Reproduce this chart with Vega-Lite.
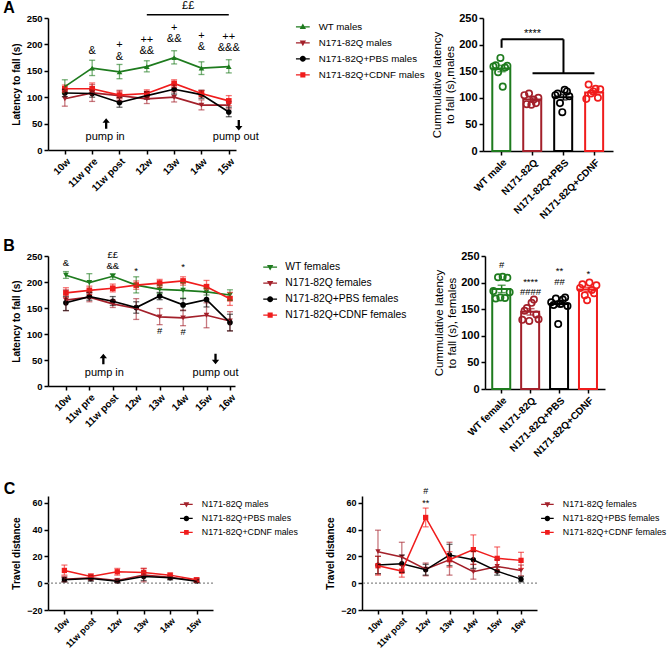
{
"$schema":"https://vega.github.io/schema/vega-lite/v6.json",
"padding":{"left":3,"top":0,"right":0,"bottom":0},
"config":{
 "font":"Liberation Sans",
 "view":{"stroke":null},
 "axis":{"grid":false,"domainColor":"#000","domainWidth":1.5,"tickColor":"#000","tickWidth":1.5,"tickSize":4,"labelColor":"#000","labelFontWeight":"bold","labelFontSize":9.5,"labelPadding":2,"titleColor":"#000","titleFontWeight":"bold","titleFontSize":10,"titlePadding":5},
 "axisX":{"labelAngle":-45,"labelFontSize":10},
 "legend":{"labelColor":"#000"},
 "title":{"anchor":"start","fontSize":16,"fontWeight":"bold","color":"#000"},
 "text":{"color":"#000"}
},
"datasets":{
 "lineA":[
  {"series":"WT males","week":"10w","mean":120,"lo":108,"hi":133},
  {"series":"WT males","week":"11w pre","mean":155,"lo":141,"hi":170},
  {"series":"WT males","week":"11w post","mean":148,"lo":135,"hi":162},
  {"series":"WT males","week":"12w","mean":158,"lo":148,"hi":169},
  {"series":"WT males","week":"13w","mean":175,"lo":163,"hi":188},
  {"series":"WT males","week":"14w","mean":155,"lo":143,"hi":167},
  {"series":"WT males","week":"15w","mean":158,"lo":146,"hi":171},
  {"series":"N171-82Q males","week":"10w","mean":97,"lo":83,"hi":112},
  {"series":"N171-82Q males","week":"11w pre","mean":108,"lo":92,"hi":124},
  {"series":"N171-82Q males","week":"11w post","mean":103,"lo":93,"hi":113},
  {"series":"N171-82Q males","week":"12w","mean":97,"lo":88,"hi":107},
  {"series":"N171-82Q males","week":"13w","mean":100,"lo":91,"hi":110},
  {"series":"N171-82Q males","week":"14w","mean":85,"lo":76,"hi":95},
  {"series":"N171-82Q males","week":"15w","mean":85,"lo":78,"hi":92},
  {"series":"N171-82Q+PBS males","week":"10w","mean":108,"lo":101,"hi":115},
  {"series":"N171-82Q+PBS males","week":"11w pre","mean":107,"lo":100,"hi":114},
  {"series":"N171-82Q+PBS males","week":"11w post","mean":90,"lo":81,"hi":99},
  {"series":"N171-82Q+PBS males","week":"12w","mean":103,"lo":96,"hi":110},
  {"series":"N171-82Q+PBS males","week":"13w","mean":115,"lo":106,"hi":124},
  {"series":"N171-82Q+PBS males","week":"14w","mean":105,"lo":98,"hi":113},
  {"series":"N171-82Q+PBS males","week":"15w","mean":72,"lo":63,"hi":81},
  {"series":"N171-82Q+CDNF males","week":"10w","mean":116,"lo":109,"hi":123},
  {"series":"N171-82Q+CDNF males","week":"11w pre","mean":116,"lo":106,"hi":127},
  {"series":"N171-82Q+CDNF males","week":"11w post","mean":104,"lo":97,"hi":111},
  {"series":"N171-82Q+CDNF males","week":"12w","mean":107,"lo":100,"hi":114},
  {"series":"N171-82Q+CDNF males","week":"13w","mean":126,"lo":119,"hi":133},
  {"series":"N171-82Q+CDNF males","week":"14w","mean":107,"lo":101,"hi":113},
  {"series":"N171-82Q+CDNF males","week":"15w","mean":93,"lo":84,"hi":103}
 ],
 "annA":[
  {"week":"11w pre","y":187,"label":"&"},
  {"week":"11w post","y":198,"label":"+"},
  {"week":"11w post","y":177,"label":"&"},
  {"week":"12w","y":209,"label":"++"},
  {"week":"12w","y":188,"label":"&&"},
  {"week":"13w","y":231,"label":"+"},
  {"week":"13w","y":210,"label":"&&"},
  {"week":"14w","y":216,"label":"+"},
  {"week":"14w","y":196,"label":"&"},
  {"week":"15w","y":214,"label":"++"},
  {"week":"15w","y":194,"label":"&&&"}
 ],
 "lineB":[
  {"series":"WT females","week":"10w","mean":213,"lo":207,"hi":220},
  {"series":"WT females","week":"11w pre","mean":199,"lo":183,"hi":216},
  {"series":"WT females","week":"11w post","mean":211,"lo":205,"hi":216},
  {"series":"WT females","week":"12w","mean":194,"lo":179,"hi":210},
  {"series":"WT females","week":"13w","mean":186,"lo":178,"hi":194},
  {"series":"WT females","week":"14w","mean":184,"lo":169,"hi":199},
  {"series":"WT females","week":"15w","mean":181,"lo":175,"hi":188},
  {"series":"WT females","week":"16w","mean":175,"lo":165,"hi":185},
  {"series":"N171-82Q females","week":"10w","mean":165,"lo":145,"hi":185},
  {"series":"N171-82Q females","week":"11w pre","mean":171,"lo":162,"hi":180},
  {"series":"N171-82Q females","week":"11w post","mean":158,"lo":151,"hi":165},
  {"series":"N171-82Q females","week":"12w","mean":149,"lo":128,"hi":168},
  {"series":"N171-82Q females","week":"13w","mean":133,"lo":118,"hi":149},
  {"series":"N171-82Q females","week":"14w","mean":131,"lo":116,"hi":146},
  {"series":"N171-82Q females","week":"15w","mean":136,"lo":112,"hi":160},
  {"series":"N171-82Q females","week":"16w","mean":125,"lo":106,"hi":143},
  {"series":"N171-82Q+PBS females","week":"10w","mean":160,"lo":145,"hi":172},
  {"series":"N171-82Q+PBS females","week":"11w pre","mean":172,"lo":165,"hi":179},
  {"series":"N171-82Q+PBS females","week":"11w post","mean":163,"lo":155,"hi":172},
  {"series":"N171-82Q+PBS females","week":"12w","mean":151,"lo":140,"hi":162},
  {"series":"N171-82Q+PBS females","week":"13w","mean":173,"lo":166,"hi":180},
  {"series":"N171-82Q+PBS females","week":"14w","mean":156,"lo":145,"hi":168},
  {"series":"N171-82Q+PBS females","week":"15w","mean":166,"lo":152,"hi":180},
  {"series":"N171-82Q+PBS females","week":"16w","mean":122,"lo":106,"hi":138},
  {"series":"N171-82Q+CDNF females","week":"10w","mean":179,"lo":170,"hi":189},
  {"series":"N171-82Q+CDNF females","week":"11w pre","mean":184,"lo":176,"hi":192},
  {"series":"N171-82Q+CDNF females","week":"11w post","mean":188,"lo":181,"hi":196},
  {"series":"N171-82Q+CDNF females","week":"12w","mean":194,"lo":186,"hi":202},
  {"series":"N171-82Q+CDNF females","week":"13w","mean":198,"lo":190,"hi":205},
  {"series":"N171-82Q+CDNF females","week":"14w","mean":202,"lo":194,"hi":210},
  {"series":"N171-82Q+CDNF females","week":"15w","mean":191,"lo":180,"hi":203},
  {"series":"N171-82Q+CDNF females","week":"16w","mean":168,"lo":155,"hi":180}
 ],
 "annB":[
  {"week":"10w","y":236,"label":"&"},
  {"week":"11w post","y":251,"label":"££"},
  {"week":"11w post","y":231,"label":"&&"},
  {"week":"12w","y":221,"label":"*"},
  {"week":"14w","y":228,"label":"*"},
  {"week":"13w","y":106,"label":"#"},
  {"week":"14w","y":104,"label":"#"}
 ],
 "barA":[
  {"group":"WT male","mean":155,"lo":149,"hi":161},
  {"group":"N171-82Q","mean":97,"lo":94,"hi":100},
  {"group":"N171-82Q+PBS","mean":101,"lo":96,"hi":106},
  {"group":"N171-82Q+CDNF","mean":110,"lo":106.5,"hi":113.5}
 ],
 "ptsA":[
  {"group":"WT male","animal":1,"v":159},{"group":"WT male","animal":2,"v":161},{"group":"WT male","animal":3,"v":148},{"group":"WT male","animal":4,"v":175},{"group":"WT male","animal":5,"v":121},{"group":"WT male","animal":6,"v":157},{"group":"WT male","animal":7,"v":160},
  {"group":"N171-82Q","animal":1,"v":105},{"group":"N171-82Q","animal":2,"v":88},{"group":"N171-82Q","animal":3,"v":108},{"group":"N171-82Q","animal":4,"v":87},{"group":"N171-82Q","animal":5,"v":97},{"group":"N171-82Q","animal":6,"v":90},{"group":"N171-82Q","animal":7,"v":100},
  {"group":"N171-82Q+PBS","animal":1,"v":105},{"group":"N171-82Q+PBS","animal":2,"v":108},{"group":"N171-82Q+PBS","animal":3,"v":90},{"group":"N171-82Q+PBS","animal":4,"v":73},{"group":"N171-82Q+PBS","animal":5,"v":115},{"group":"N171-82Q+PBS","animal":6,"v":112},{"group":"N171-82Q+PBS","animal":7,"v":103},
  {"group":"N171-82Q+CDNF","animal":1,"v":98},{"group":"N171-82Q+CDNF","animal":2,"v":125},{"group":"N171-82Q+CDNF","animal":3,"v":108},{"group":"N171-82Q+CDNF","animal":4,"v":112},{"group":"N171-82Q+CDNF","animal":5,"v":117},{"group":"N171-82Q+CDNF","animal":6,"v":100},{"group":"N171-82Q+CDNF","animal":7,"v":116}
 ],
 "bracketA":[
  {"x":"WT male","x2":"N171-82Q+PBS","y":210,"y2":210},
  {"x":"WT male","x2":"WT male","y":194,"y2":210},
  {"x":"N171-82Q+PBS","x2":"N171-82Q+PBS","y":146,"y2":210},
  {"x":"N171-82Q","x2":"N171-82Q+CDNF","y":146,"y2":146}
 ],
 "barB":[
  {"group":"WT female","mean":188,"lo":181,"hi":195},
  {"group":"N171-82Q","mean":145,"lo":139,"hi":151},
  {"group":"N171-82Q+PBS","mean":160,"lo":155,"hi":165},
  {"group":"N171-82Q+CDNF","mean":187,"lo":183,"hi":191}
 ],
 "ptsB":[
  {"group":"WT female","animal":1,"v":184},{"group":"WT female","animal":2,"v":170},{"group":"WT female","animal":3,"v":210},{"group":"WT female","animal":4,"v":172},{"group":"WT female","animal":5,"v":211},{"group":"WT female","animal":6,"v":171},{"group":"WT female","animal":7,"v":209},{"group":"WT female","animal":8,"v":182},
  {"group":"N171-82Q","animal":1,"v":130},{"group":"N171-82Q","animal":2,"v":147},{"group":"N171-82Q","animal":3,"v":152},{"group":"N171-82Q","animal":4,"v":128},{"group":"N171-82Q","animal":5,"v":162},{"group":"N171-82Q","animal":6,"v":168},{"group":"N171-82Q","animal":7,"v":140},{"group":"N171-82Q","animal":8,"v":131},
  {"group":"N171-82Q+PBS","animal":1,"v":163},{"group":"N171-82Q+PBS","animal":2,"v":158},{"group":"N171-82Q+PBS","animal":3,"v":170},{"group":"N171-82Q+PBS","animal":4,"v":122},{"group":"N171-82Q+PBS","animal":5,"v":160},{"group":"N171-82Q+PBS","animal":6,"v":168},{"group":"N171-82Q+PBS","animal":7,"v":172},{"group":"N171-82Q+PBS","animal":8,"v":156},
  {"group":"N171-82Q+CDNF","animal":1,"v":190},{"group":"N171-82Q+CDNF","animal":2,"v":197},{"group":"N171-82Q+CDNF","animal":3,"v":176},{"group":"N171-82Q+CDNF","animal":4,"v":167},{"group":"N171-82Q+CDNF","animal":5,"v":200},{"group":"N171-82Q+CDNF","animal":6,"v":186},{"group":"N171-82Q+CDNF","animal":7,"v":180},{"group":"N171-82Q+CDNF","animal":8,"v":195}
 ],
 "annBarB":[
  {"group":"WT female","y":234,"label":"#"},
  {"group":"N171-82Q","y":202,"label":"****"},
  {"group":"N171-82Q","y":183,"label":"####"},
  {"group":"N171-82Q+PBS","y":221,"label":"**"},
  {"group":"N171-82Q+PBS","y":202,"label":"##"},
  {"group":"N171-82Q+CDNF","y":217,"label":"*"}
 ],
 "lineC1":[
  {"series":"N171-82Q males","week":"10w","mean":3,"lo":1,"hi":5},
  {"series":"N171-82Q males","week":"11w post","mean":4,"lo":2,"hi":6},
  {"series":"N171-82Q males","week":"12w","mean":2,"lo":0.5,"hi":3.5},
  {"series":"N171-82Q males","week":"13w","mean":6,"lo":1,"hi":11},
  {"series":"N171-82Q males","week":"14w","mean":4.5,"lo":3,"hi":6},
  {"series":"N171-82Q males","week":"15w","mean":2,"lo":0.5,"hi":3.5},
  {"series":"N171-82Q+PBS males","week":"10w","mean":2.5,"lo":1,"hi":4},
  {"series":"N171-82Q+PBS males","week":"11w post","mean":3.5,"lo":1.5,"hi":5.5},
  {"series":"N171-82Q+PBS males","week":"12w","mean":1.5,"lo":0.5,"hi":2.5},
  {"series":"N171-82Q+PBS males","week":"13w","mean":5,"lo":2,"hi":8},
  {"series":"N171-82Q+PBS males","week":"14w","mean":4,"lo":2.5,"hi":5.5},
  {"series":"N171-82Q+PBS males","week":"15w","mean":1.5,"lo":0.5,"hi":2.5},
  {"series":"N171-82Q+CDNF males","week":"10w","mean":9.5,"lo":6,"hi":13.5},
  {"series":"N171-82Q+CDNF males","week":"11w post","mean":5,"lo":3,"hi":7},
  {"series":"N171-82Q+CDNF males","week":"12w","mean":8.5,"lo":6,"hi":11},
  {"series":"N171-82Q+CDNF males","week":"13w","mean":8,"lo":5,"hi":11},
  {"series":"N171-82Q+CDNF males","week":"14w","mean":6,"lo":4.5,"hi":7.5},
  {"series":"N171-82Q+CDNF males","week":"15w","mean":2.5,"lo":1,"hi":4}
 ],
 "lineC2":[
  {"series":"N171-82Q females","week":"10w","mean":23.5,"lo":7,"hi":39.5},
  {"series":"N171-82Q females","week":"11w post","mean":19.5,"lo":9,"hi":30.5},
  {"series":"N171-82Q females","week":"12w","mean":10.5,"lo":5.5,"hi":15},
  {"series":"N171-82Q females","week":"13w","mean":17.5,"lo":6,"hi":30.5},
  {"series":"N171-82Q females","week":"14w","mean":8.5,"lo":3,"hi":14},
  {"series":"N171-82Q females","week":"15w","mean":12.5,"lo":8,"hi":17.5},
  {"series":"N171-82Q females","week":"16w","mean":9.5,"lo":5.5,"hi":13.5},
  {"series":"N171-82Q+PBS females","week":"10w","mean":13.5,"lo":7,"hi":20},
  {"series":"N171-82Q+PBS females","week":"11w post","mean":14.5,"lo":8,"hi":21},
  {"series":"N171-82Q+PBS females","week":"12w","mean":10,"lo":6,"hi":14},
  {"series":"N171-82Q+PBS females","week":"13w","mean":21,"lo":13,"hi":29},
  {"series":"N171-82Q+PBS females","week":"14w","mean":17.5,"lo":11,"hi":24},
  {"series":"N171-82Q+PBS females","week":"15w","mean":9,"lo":6,"hi":12},
  {"series":"N171-82Q+PBS females","week":"16w","mean":3,"lo":1,"hi":5},
  {"series":"N171-82Q+CDNF females","week":"10w","mean":13,"lo":6,"hi":20},
  {"series":"N171-82Q+CDNF females","week":"11w post","mean":9,"lo":4.5,"hi":13.5},
  {"series":"N171-82Q+CDNF females","week":"12w","mean":49,"lo":42,"hi":56},
  {"series":"N171-82Q+CDNF females","week":"13w","mean":17.5,"lo":12,"hi":23.5},
  {"series":"N171-82Q+CDNF females","week":"14w","mean":25,"lo":14,"hi":36},
  {"series":"N171-82Q+CDNF females","week":"15w","mean":18.5,"lo":10,"hi":27},
  {"series":"N171-82Q+CDNF females","week":"16w","mean":17,"lo":11,"hi":23}
 ]
},
"spacing":22,
"resolve":{"scale":{"color":"independent","shape":"independent"},"legend":{"color":"independent","shape":"independent"}},
"vconcat":[
{
"spacing":17,
"resolve":{"scale":{"color":"independent","shape":"independent"},"legend":{"color":"independent","shape":"independent"}},
"vconcat":[
{
"spacing":6,
"resolve":{"scale":{"color":"independent","shape":"independent"},"legend":{"color":"independent","shape":"independent"}},
"hconcat":[
{
 "title":{"text":"A","dx":-8,"offset":-16},
 "width":188,"height":132,
 "resolve":{"scale":{"color":"independent","shape":"independent"},"legend":{"color":"independent","shape":"independent"}},
 "layer":[
  {"data":{"name":"lineA"},"transform":[{"filter":"false"}],"mark":{"type":"point","filled":true,"opacity":1},
   "encoding":{
    "x":{"field":"week","type":"ordinal","scale":{"type":"point","domain":["10w","11w pre","11w post","12w","13w","14w","15w"],"padding":0.44,"align":0.7},"axis":{"title":null}},
    "y":{"field":"mean","type":"quantitative","scale":{"domain":[0,250]},"axis":{"title":"Latency to fall (s)","values":[0,50,100,150,200,250]}},
    "color":{"field":"series","type":"nominal","scale":{"domain":["WT males","N171-82Q males","N171-82Q+PBS males","N171-82Q+CDNF males"],"range":["#1e7b1e","#a3202a","#000000","#f01c1c"]},"legend":{"title":null,"orient":"none","legendX":250,"legendY":4,"labelFontSize":9.7,"rowPadding":5,"symbolSize":36,"labelOffset":11}},
    "shape":{"field":"series","type":"nominal","scale":{"domain":["WT males","N171-82Q males","N171-82Q+PBS males","N171-82Q+CDNF males"],"range":["M-2.3,-0.22H2.3V0.22H-2.3ZM0,-1.1L1.05,0.75L-1.05,0.75Z","M-2.3,-0.22H2.3V0.22H-2.3ZM0,1.1L-1.05,-0.75L1.05,-0.75Z","M-2.3,-0.22H2.3V0.22H-2.3ZM-1,0A1,1 0 1,1 1,0A1,1 0 1,1 -1,0Z","M-2.3,-0.22H2.3V0.22H-2.3ZM-0.85,-0.85H0.85V0.85H-0.85Z"]},"legend":{"title":null,"orient":"none","legendX":250,"legendY":4,"labelFontSize":9.7,"rowPadding":5,"symbolSize":36,"labelOffset":11}}}},
  {"data":{"name":"lineA"},"mark":{"type":"point","filled":true,"size":32,"opacity":1},
   "encoding":{
    "x":{"field":"week","type":"ordinal","scale":{"type":"point","domain":["10w","11w pre","11w post","12w","13w","14w","15w"],"padding":0.44,"align":0.7},"axis":{"title":null}},
    "y":{"field":"mean","type":"quantitative","scale":{"domain":[0,250]},"axis":{"title":"Latency to fall (s)","values":[0,50,100,150,200,250]}},
    "color":{"field":"series","type":"nominal","scale":{"domain":["WT males","N171-82Q males","N171-82Q+PBS males","N171-82Q+CDNF males"],"range":["#1e7b1e","#a3202a","#000000","#f01c1c"]},"legend":null},
    "shape":{"field":"series","type":"nominal","scale":{"domain":["WT males","N171-82Q males","N171-82Q+PBS males","N171-82Q+CDNF males"],"range":["triangle-up","triangle-down","circle","square"]},"legend":null}}},
  {"data":{"name":"lineA"},"mark":{"type":"errorbar","ticks":true,"size":6,"thickness":1.3,"opacity":0.6},
   "encoding":{
    "x":{"field":"week","type":"ordinal","scale":{"type":"point","domain":["10w","11w pre","11w post","12w","13w","14w","15w"],"padding":0.44,"align":0.7},"axis":{"title":null}},
    "y":{"field":"lo","type":"quantitative","scale":{"domain":[0,250]},"axis":{"title":"Latency to fall (s)","values":[0,50,100,150,200,250]}},
    "y2":{"field":"hi"},
    "color":{"field":"series","type":"nominal","scale":{"domain":["WT males","N171-82Q males","N171-82Q+PBS males","N171-82Q+CDNF males"],"range":["#1e7b1e","#a3202a","#000000","#f01c1c"]},"legend":null}}},
  {"data":{"name":"lineA"},"mark":{"type":"line","strokeWidth":1.7},
   "encoding":{
    "x":{"field":"week","type":"ordinal","scale":{"type":"point","domain":["10w","11w pre","11w post","12w","13w","14w","15w"],"padding":0.44,"align":0.7},"axis":{"title":null}},
    "y":{"field":"mean","type":"quantitative","scale":{"domain":[0,250]},"axis":{"title":"Latency to fall (s)","values":[0,50,100,150,200,250]}},
    "color":{"field":"series","type":"nominal","scale":{"domain":["WT males","N171-82Q males","N171-82Q+PBS males","N171-82Q+CDNF males"],"range":["#1e7b1e","#a3202a","#000000","#f01c1c"]},"legend":null}}},
  {"data":{"name":"annA"},"mark":{"type":"text","fontSize":11},
   "encoding":{
    "x":{"field":"week","type":"ordinal","scale":{"type":"point","domain":["10w","11w pre","11w post","12w","13w","14w","15w"],"padding":0.44,"align":0.7},"axis":{"title":null}},
    "y":{"field":"y","type":"quantitative","scale":{"domain":[0,250]},"axis":{"title":"Latency to fall (s)","values":[0,50,100,150,200,250]}},
    "text":{"field":"label"}}},
  {"data":{"values":[{"week":"13w","y":272,"label":"££"}]},"mark":{"type":"text","fontSize":11,"xOffset":14},
   "encoding":{
    "x":{"field":"week","type":"ordinal","scale":{"type":"point","domain":["10w","11w pre","11w post","12w","13w","14w","15w"],"padding":0.44,"align":0.7},"axis":{"title":null}},
    "y":{"field":"y","type":"quantitative","scale":{"domain":[0,250]},"axis":{"title":"Latency to fall (s)","values":[0,50,100,150,200,250]}},
    "text":{"field":"label"}}},
  {"data":{"values":[{"from":"12w","to":"15w","y":256}]},"mark":{"type":"rule","strokeWidth":1.5,"color":"#000"},
   "encoding":{
    "x":{"field":"from","type":"ordinal","scale":{"type":"point","domain":["10w","11w pre","11w post","12w","13w","14w","15w"],"padding":0.44,"align":0.7},"axis":{"title":null}},
    "x2":{"field":"to"},
    "y":{"field":"y","type":"quantitative","scale":{"domain":[0,250]},"axis":{"title":"Latency to fall (s)","values":[0,50,100,150,200,250]}}}},
  {"data":{"values":[{"week":"11w pre","y":25,"label":"pump in"}]},"mark":{"type":"text","fontSize":11,"xOffset":13},
   "encoding":{
    "x":{"field":"week","type":"ordinal","scale":{"type":"point","domain":["10w","11w pre","11w post","12w","13w","14w","15w"],"padding":0.44,"align":0.7},"axis":{"title":null}},
    "y":{"field":"y","type":"quantitative","scale":{"domain":[0,250]},"axis":{"title":"Latency to fall (s)","values":[0,50,100,150,200,250]}},
    "text":{"field":"label"}}},
  {"data":{"values":[{"week":"11w pre","y":50}]},"mark":{"type":"point","shape":"M0,-1L0.7,-0.15L0.22,-0.15L0.22,1L-0.22,1L-0.22,-0.15L-0.7,-0.15Z","filled":true,"color":"#000","size":110,"opacity":1,"xOffset":14},
   "encoding":{
    "x":{"field":"week","type":"ordinal","scale":{"type":"point","domain":["10w","11w pre","11w post","12w","13w","14w","15w"],"padding":0.44,"align":0.7},"axis":{"title":null}},
    "y":{"field":"y","type":"quantitative","scale":{"domain":[0,250]},"axis":{"title":"Latency to fall (s)","values":[0,50,100,150,200,250]}}}},
  {"data":{"values":[{"week":"15w","y":25,"label":"pump out"}]},"mark":{"type":"text","fontSize":11,"xOffset":7},
   "encoding":{
    "x":{"field":"week","type":"ordinal","scale":{"type":"point","domain":["10w","11w pre","11w post","12w","13w","14w","15w"],"padding":0.44,"align":0.7},"axis":{"title":null}},
    "y":{"field":"y","type":"quantitative","scale":{"domain":[0,250]},"axis":{"title":"Latency to fall (s)","values":[0,50,100,150,200,250]}},
    "text":{"field":"label"}}},
  {"data":{"values":[{"week":"15w","y":47}]},"mark":{"type":"point","shape":"M0,-1L0.7,-0.15L0.22,-0.15L0.22,1L-0.22,1L-0.22,-0.15L-0.7,-0.15Z","angle":180,"filled":true,"color":"#000","size":110,"opacity":1,"xOffset":10},
   "encoding":{
    "x":{"field":"week","type":"ordinal","scale":{"type":"point","domain":["10w","11w pre","11w post","12w","13w","14w","15w"],"padding":0.44,"align":0.7},"axis":{"title":null}},
    "y":{"field":"y","type":"quantitative","scale":{"domain":[0,250]},"axis":{"title":"Latency to fall (s)","values":[0,50,100,150,200,250]}}}}
 ]
},
{
 "width":130,"height":133,
 "layer":[
  {"data":{"name":"barA"},"mark":{"type":"bar","filled":false,"strokeWidth":2,"opacity":1},
   "encoding":{
    "x":{"field":"group","type":"nominal","scale":{"domain":["WT male","N171-82Q","N171-82Q+PBS","N171-82Q+CDNF"],"paddingInner":0.4,"paddingOuter":0.3},"axis":{"title":null,"labelFontSize":10}},
    "y":{"field":"mean","type":"quantitative","scale":{"domain":[0,250]},"axis":{"title":["Cummulative latency","to fall (s),males"],"titleFontWeight":"normal","titleFontSize":11.5,"titlePadding":3,"labelFontSize":11,"values":[0,50,100,150,200,250]}},
    "color":{"field":"group","type":"nominal","scale":{"domain":["WT male","N171-82Q","N171-82Q+PBS","N171-82Q+CDNF"],"range":["#1e7b1e","#a3202a","#000000","#f01c1c"]},"legend":null}}},
  {"data":{"name":"barA"},"mark":{"type":"errorbar","ticks":true,"size":8,"thickness":1.5},
   "encoding":{
    "x":{"field":"group","type":"nominal","scale":{"domain":["WT male","N171-82Q","N171-82Q+PBS","N171-82Q+CDNF"],"paddingInner":0.4,"paddingOuter":0.3},"axis":{"title":null,"labelFontSize":10}},
    "y":{"field":"lo","type":"quantitative","scale":{"domain":[0,250]},"axis":{"title":["Cummulative latency","to fall (s),males"],"titleFontWeight":"normal","titleFontSize":11.5,"titlePadding":3,"labelFontSize":11,"values":[0,50,100,150,200,250]}},
    "y2":{"field":"hi"},
    "color":{"field":"group","type":"nominal","scale":{"domain":["WT male","N171-82Q","N171-82Q+PBS","N171-82Q+CDNF"],"range":["#1e7b1e","#a3202a","#000000","#f01c1c"]},"legend":null}}},
  {"data":{"name":"ptsA"},"mark":{"type":"point","filled":false,"size":40,"strokeWidth":1.7,"opacity":1},
   "encoding":{
    "x":{"field":"group","type":"nominal","scale":{"domain":["WT male","N171-82Q","N171-82Q+PBS","N171-82Q+CDNF"],"paddingInner":0.4,"paddingOuter":0.3},"axis":{"title":null,"labelFontSize":10}},
    "xOffset":{"field":"animal","type":"nominal"},
    "y":{"field":"v","type":"quantitative","scale":{"domain":[0,250]},"axis":{"title":["Cummulative latency","to fall (s),males"],"titleFontWeight":"normal","titleFontSize":11.5,"titlePadding":3,"labelFontSize":11,"values":[0,50,100,150,200,250]}},
    "color":{"field":"group","type":"nominal","scale":{"domain":["WT male","N171-82Q","N171-82Q+PBS","N171-82Q+CDNF"],"range":["#1e7b1e","#a3202a","#000000","#f01c1c"]},"legend":null}}},
  {"data":{"name":"bracketA"},"mark":{"type":"rule","strokeWidth":2,"color":"#000"},
   "encoding":{
    "x":{"field":"x","type":"nominal","scale":{"domain":["WT male","N171-82Q","N171-82Q+PBS","N171-82Q+CDNF"],"paddingInner":0.4,"paddingOuter":0.3},"axis":{"title":null,"labelFontSize":10}},
    "x2":{"field":"x2"},
    "y":{"field":"y","type":"quantitative","scale":{"domain":[0,250]},"axis":{"title":["Cummulative latency","to fall (s),males"],"titleFontWeight":"normal","titleFontSize":11.5,"titlePadding":3,"labelFontSize":11,"values":[0,50,100,150,200,250]}},
    "y2":{"field":"y2"}}},
  {"data":{"values":[{"group":"N171-82Q","y":220,"label":"****"}]},"mark":{"type":"text","fontSize":11},
   "encoding":{
    "x":{"field":"group","type":"nominal","scale":{"domain":["WT male","N171-82Q","N171-82Q+PBS","N171-82Q+CDNF"],"paddingInner":0.4,"paddingOuter":0.3},"axis":{"title":null,"labelFontSize":10}},
    "y":{"field":"y","type":"quantitative","scale":{"domain":[0,250]},"axis":{"title":["Cummulative latency","to fall (s),males"],"titleFontWeight":"normal","titleFontSize":11.5,"titlePadding":3,"labelFontSize":11,"values":[0,50,100,150,200,250]}},
    "text":{"field":"label"}}}
 ]
}
]},
{
"spacing":26,
"resolve":{"scale":{"color":"independent","shape":"independent"},"legend":{"color":"independent","shape":"independent"}},
"hconcat":[
{
 "title":{"text":"B","dx":-8,"offset":-4},
 "width":187,"height":130,
 "resolve":{"scale":{"color":"independent","shape":"independent"},"legend":{"color":"independent","shape":"independent"}},
 "layer":[
  {"data":{"name":"lineB"},"transform":[{"filter":"false"}],"mark":{"type":"point","filled":true,"opacity":1},
   "encoding":{
    "x":{"field":"week","type":"ordinal","scale":{"type":"point","domain":["10w","11w pre","11w post","12w","13w","14w","15w","16w"],"padding":0.49,"align":0.78},"axis":{"title":null}},
    "y":{"field":"mean","type":"quantitative","scale":{"domain":[0,250]},"axis":{"title":"Latency to fall (s)","values":[0,50,100,150,200,250]}},
    "color":{"field":"series","type":"nominal","scale":{"domain":["WT females","N171-82Q females","N171-82Q+PBS females","N171-82Q+CDNF females"],"range":["#1e7b1e","#a3202a","#000000","#f01c1c"]},"legend":{"title":null,"orient":"none","legendX":217,"legendY":6,"labelFontSize":10.3,"rowPadding":5,"symbolSize":36,"labelOffset":10}},
    "shape":{"field":"series","type":"nominal","scale":{"domain":["WT females","N171-82Q females","N171-82Q+PBS females","N171-82Q+CDNF females"],"range":["M-2.3,-0.22H2.3V0.22H-2.3ZM0,1.1L-1.05,-0.75L1.05,-0.75Z","M-2.3,-0.22H2.3V0.22H-2.3ZM0,1.1L-1.05,-0.75L1.05,-0.75Z","M-2.3,-0.22H2.3V0.22H-2.3ZM-1,0A1,1 0 1,1 1,0A1,1 0 1,1 -1,0Z","M-2.3,-0.22H2.3V0.22H-2.3ZM-0.85,-0.85H0.85V0.85H-0.85Z"]},"legend":{"title":null,"orient":"none","legendX":217,"legendY":6,"labelFontSize":10.3,"rowPadding":5,"symbolSize":36,"labelOffset":10}}}},
  {"data":{"name":"lineB"},"mark":{"type":"point","filled":true,"size":32,"opacity":1},
   "encoding":{
    "x":{"field":"week","type":"ordinal","scale":{"type":"point","domain":["10w","11w pre","11w post","12w","13w","14w","15w","16w"],"padding":0.49,"align":0.78},"axis":{"title":null}},
    "y":{"field":"mean","type":"quantitative","scale":{"domain":[0,250]},"axis":{"title":"Latency to fall (s)","values":[0,50,100,150,200,250]}},
    "color":{"field":"series","type":"nominal","scale":{"domain":["WT females","N171-82Q females","N171-82Q+PBS females","N171-82Q+CDNF females"],"range":["#1e7b1e","#a3202a","#000000","#f01c1c"]},"legend":null},
    "shape":{"field":"series","type":"nominal","scale":{"domain":["WT females","N171-82Q females","N171-82Q+PBS females","N171-82Q+CDNF females"],"range":["triangle-down","triangle-down","circle","square"]},"legend":null}}},
  {"data":{"name":"lineB"},"mark":{"type":"errorbar","ticks":true,"size":6,"thickness":1.3,"opacity":0.6},
   "encoding":{
    "x":{"field":"week","type":"ordinal","scale":{"type":"point","domain":["10w","11w pre","11w post","12w","13w","14w","15w","16w"],"padding":0.49,"align":0.78},"axis":{"title":null}},
    "y":{"field":"lo","type":"quantitative","scale":{"domain":[0,250]},"axis":{"title":"Latency to fall (s)","values":[0,50,100,150,200,250]}},
    "y2":{"field":"hi"},
    "color":{"field":"series","type":"nominal","scale":{"domain":["WT females","N171-82Q females","N171-82Q+PBS females","N171-82Q+CDNF females"],"range":["#1e7b1e","#a3202a","#000000","#f01c1c"]},"legend":null}}},
  {"data":{"name":"lineB"},"mark":{"type":"line","strokeWidth":1.7},
   "encoding":{
    "x":{"field":"week","type":"ordinal","scale":{"type":"point","domain":["10w","11w pre","11w post","12w","13w","14w","15w","16w"],"padding":0.49,"align":0.78},"axis":{"title":null}},
    "y":{"field":"mean","type":"quantitative","scale":{"domain":[0,250]},"axis":{"title":"Latency to fall (s)","values":[0,50,100,150,200,250]}},
    "color":{"field":"series","type":"nominal","scale":{"domain":["WT females","N171-82Q females","N171-82Q+PBS females","N171-82Q+CDNF females"],"range":["#1e7b1e","#a3202a","#000000","#f01c1c"]},"legend":null}}},
  {"data":{"name":"annB"},"mark":{"type":"text","fontSize":9.5},
   "encoding":{
    "x":{"field":"week","type":"ordinal","scale":{"type":"point","domain":["10w","11w pre","11w post","12w","13w","14w","15w","16w"],"padding":0.49,"align":0.78},"axis":{"title":null}},
    "y":{"field":"y","type":"quantitative","scale":{"domain":[0,250]},"axis":{"title":"Latency to fall (s)","values":[0,50,100,150,200,250]}},
    "text":{"field":"label"}}},
  {"data":{"values":[{"week":"11w pre","y":25,"label":"pump in"}]},"mark":{"type":"text","fontSize":11,"xOffset":15},
   "encoding":{
    "x":{"field":"week","type":"ordinal","scale":{"type":"point","domain":["10w","11w pre","11w post","12w","13w","14w","15w","16w"],"padding":0.49,"align":0.78},"axis":{"title":null}},
    "y":{"field":"y","type":"quantitative","scale":{"domain":[0,250]},"axis":{"title":"Latency to fall (s)","values":[0,50,100,150,200,250]}},
    "text":{"field":"label"}}},
  {"data":{"values":[{"week":"11w pre","y":52}]},"mark":{"type":"point","shape":"M0,-1L0.7,-0.15L0.22,-0.15L0.22,1L-0.22,1L-0.22,-0.15L-0.7,-0.15Z","filled":true,"color":"#000","size":110,"opacity":1,"xOffset":14},
   "encoding":{
    "x":{"field":"week","type":"ordinal","scale":{"type":"point","domain":["10w","11w pre","11w post","12w","13w","14w","15w","16w"],"padding":0.49,"align":0.78},"axis":{"title":null}},
    "y":{"field":"y","type":"quantitative","scale":{"domain":[0,250]},"axis":{"title":"Latency to fall (s)","values":[0,50,100,150,200,250]}}}},
  {"data":{"values":[{"week":"15w","y":25,"label":"pump out"}]},"mark":{"type":"text","fontSize":11,"xOffset":9},
   "encoding":{
    "x":{"field":"week","type":"ordinal","scale":{"type":"point","domain":["10w","11w pre","11w post","12w","13w","14w","15w","16w"],"padding":0.49,"align":0.78},"axis":{"title":null}},
    "y":{"field":"y","type":"quantitative","scale":{"domain":[0,250]},"axis":{"title":"Latency to fall (s)","values":[0,50,100,150,200,250]}},
    "text":{"field":"label"}}},
  {"data":{"values":[{"week":"15w","y":52}]},"mark":{"type":"point","shape":"M0,-1L0.7,-0.15L0.22,-0.15L0.22,1L-0.22,1L-0.22,-0.15L-0.7,-0.15Z","angle":180,"filled":true,"color":"#000","size":110,"opacity":1,"xOffset":9},
   "encoding":{
    "x":{"field":"week","type":"ordinal","scale":{"type":"point","domain":["10w","11w pre","11w post","12w","13w","14w","15w","16w"],"padding":0.49,"align":0.78},"axis":{"title":null}},
    "y":{"field":"y","type":"quantitative","scale":{"domain":[0,250]},"axis":{"title":"Latency to fall (s)","values":[0,50,100,150,200,250]}}}}
 ]
},
{
 "width":120,"height":133,
 "layer":[
  {"data":{"name":"barB"},"mark":{"type":"bar","filled":false,"strokeWidth":2,"opacity":1},
   "encoding":{
    "x":{"field":"group","type":"nominal","scale":{"domain":["WT female","N171-82Q","N171-82Q+PBS","N171-82Q+CDNF"],"paddingInner":0.35,"paddingOuter":0.25},"axis":{"title":null,"labelFontSize":10}},
    "y":{"field":"mean","type":"quantitative","scale":{"domain":[0,250]},"axis":{"title":["Cummulative latency","to fall (s), females"],"titleFontWeight":"normal","titleFontSize":11.5,"titlePadding":3,"labelFontSize":11,"values":[0,50,100,150,200,250]}},
    "color":{"field":"group","type":"nominal","scale":{"domain":["WT female","N171-82Q","N171-82Q+PBS","N171-82Q+CDNF"],"range":["#1e7b1e","#a3202a","#000000","#f01c1c"]},"legend":null}}},
  {"data":{"name":"barB"},"mark":{"type":"errorbar","ticks":true,"size":8,"thickness":1.5},
   "encoding":{
    "x":{"field":"group","type":"nominal","scale":{"domain":["WT female","N171-82Q","N171-82Q+PBS","N171-82Q+CDNF"],"paddingInner":0.35,"paddingOuter":0.25},"axis":{"title":null,"labelFontSize":10}},
    "y":{"field":"lo","type":"quantitative","scale":{"domain":[0,250]},"axis":{"title":["Cummulative latency","to fall (s), females"],"titleFontWeight":"normal","titleFontSize":11.5,"titlePadding":3,"labelFontSize":11,"values":[0,50,100,150,200,250]}},
    "y2":{"field":"hi"},
    "color":{"field":"group","type":"nominal","scale":{"domain":["WT female","N171-82Q","N171-82Q+PBS","N171-82Q+CDNF"],"range":["#1e7b1e","#a3202a","#000000","#f01c1c"]},"legend":null}}},
  {"data":{"name":"ptsB"},"mark":{"type":"point","filled":false,"size":40,"strokeWidth":1.7,"opacity":1},
   "encoding":{
    "x":{"field":"group","type":"nominal","scale":{"domain":["WT female","N171-82Q","N171-82Q+PBS","N171-82Q+CDNF"],"paddingInner":0.35,"paddingOuter":0.25},"axis":{"title":null,"labelFontSize":10}},
    "xOffset":{"field":"animal","type":"nominal"},
    "y":{"field":"v","type":"quantitative","scale":{"domain":[0,250]},"axis":{"title":["Cummulative latency","to fall (s), females"],"titleFontWeight":"normal","titleFontSize":11.5,"titlePadding":3,"labelFontSize":11,"values":[0,50,100,150,200,250]}},
    "color":{"field":"group","type":"nominal","scale":{"domain":["WT female","N171-82Q","N171-82Q+PBS","N171-82Q+CDNF"],"range":["#1e7b1e","#a3202a","#000000","#f01c1c"]},"legend":null}}},
  {"data":{"name":"annBarB"},"mark":{"type":"text","fontSize":9.5},
   "encoding":{
    "x":{"field":"group","type":"nominal","scale":{"domain":["WT female","N171-82Q","N171-82Q+PBS","N171-82Q+CDNF"],"paddingInner":0.35,"paddingOuter":0.25},"axis":{"title":null,"labelFontSize":10}},
    "y":{"field":"y","type":"quantitative","scale":{"domain":[0,250]},"axis":{"title":["Cummulative latency","to fall (s), females"],"titleFontWeight":"normal","titleFontSize":11.5,"titlePadding":3,"labelFontSize":11,"values":[0,50,100,150,200,250]}},
    "text":{"field":"label"}}}
 ]
}
]}
]},
{
"spacing":27,
"resolve":{"scale":{"color":"independent","shape":"independent"},"legend":{"color":"independent","shape":"independent"}},
"hconcat":[
{
 "title":{"text":"C","dx":-8,"offset":-1},
 "width":165,"height":114,
 "resolve":{"scale":{"color":"independent","shape":"independent"},"legend":{"color":"independent","shape":"independent"}},
 "layer":[
  {"data":{"name":"lineC1"},"transform":[{"filter":"false"}],"mark":{"type":"point","filled":true,"opacity":1},
   "encoding":{
    "x":{"field":"week","type":"ordinal","scale":{"type":"point","domain":["10w","11w post","12w","13w","14w","15w"],"padding":0.62},"axis":{"title":null,"labelFontSize":9}},
    "y":{"field":"mean","type":"quantitative","scale":{"domain":[-20,65],"nice":false},"axis":{"title":"Travel distance","values":[-20,0,20,40,60],"labelFontSize":9}},
    "color":{"field":"series","type":"nominal","scale":{"domain":["N171-82Q males","N171-82Q+PBS males","N171-82Q+CDNF males"],"range":["#a3202a","#000000","#f01c1c"]},"legend":{"title":null,"orient":"none","legendX":134,"legendY":4,"labelFontSize":8.8,"rowPadding":4,"symbolSize":30,"labelOffset":11}},
    "shape":{"field":"series","type":"nominal","scale":{"domain":["N171-82Q males","N171-82Q+PBS males","N171-82Q+CDNF males"],"range":["M-2.3,-0.22H2.3V0.22H-2.3ZM0,1.1L-1.05,-0.75L1.05,-0.75Z","M-2.3,-0.22H2.3V0.22H-2.3ZM-1,0A1,1 0 1,1 1,0A1,1 0 1,1 -1,0Z","M-2.3,-0.22H2.3V0.22H-2.3ZM-0.85,-0.85H0.85V0.85H-0.85Z"]},"legend":{"title":null,"orient":"none","legendX":134,"legendY":4,"labelFontSize":8.8,"rowPadding":4,"symbolSize":30,"labelOffset":11}}}},
  {"data":{"name":"lineC1"},"mark":{"type":"point","filled":true,"size":28,"opacity":1},
   "encoding":{
    "x":{"field":"week","type":"ordinal","scale":{"type":"point","domain":["10w","11w post","12w","13w","14w","15w"],"padding":0.62},"axis":{"title":null,"labelFontSize":9}},
    "y":{"field":"mean","type":"quantitative","scale":{"domain":[-20,65],"nice":false},"axis":{"title":"Travel distance","values":[-20,0,20,40,60],"labelFontSize":9}},
    "color":{"field":"series","type":"nominal","scale":{"domain":["N171-82Q males","N171-82Q+PBS males","N171-82Q+CDNF males"],"range":["#a3202a","#000000","#f01c1c"]},"legend":null},
    "shape":{"field":"series","type":"nominal","scale":{"domain":["N171-82Q males","N171-82Q+PBS males","N171-82Q+CDNF males"],"range":["triangle-down","circle","square"]},"legend":null}}},
  {"data":{"values":[{}]},"mark":{"type":"rule","strokeDash":[2,2],"color":"#888","strokeWidth":1.2},
   "encoding":{"y":{"datum":0,"type":"quantitative","scale":{"domain":[-20,65],"nice":false},"axis":{"title":"Travel distance","values":[-20,0,20,40,60],"labelFontSize":9}}}},
  {"data":{"name":"lineC1"},"mark":{"type":"errorbar","ticks":true,"size":6,"thickness":1.3,"opacity":0.6},
   "encoding":{
    "x":{"field":"week","type":"ordinal","scale":{"type":"point","domain":["10w","11w post","12w","13w","14w","15w"],"padding":0.62},"axis":{"title":null,"labelFontSize":9}},
    "y":{"field":"lo","type":"quantitative","scale":{"domain":[-20,65],"nice":false},"axis":{"title":"Travel distance","values":[-20,0,20,40,60],"labelFontSize":9}},
    "y2":{"field":"hi"},
    "color":{"field":"series","type":"nominal","scale":{"domain":["N171-82Q males","N171-82Q+PBS males","N171-82Q+CDNF males"],"range":["#a3202a","#000000","#f01c1c"]},"legend":null}}},
  {"data":{"name":"lineC1"},"mark":{"type":"line","strokeWidth":1.5},
   "encoding":{
    "x":{"field":"week","type":"ordinal","scale":{"type":"point","domain":["10w","11w post","12w","13w","14w","15w"],"padding":0.62},"axis":{"title":null,"labelFontSize":9}},
    "y":{"field":"mean","type":"quantitative","scale":{"domain":[-20,65],"nice":false},"axis":{"title":"Travel distance","values":[-20,0,20,40,60],"labelFontSize":9}},
    "color":{"field":"series","type":"nominal","scale":{"domain":["N171-82Q males","N171-82Q+PBS males","N171-82Q+CDNF males"],"range":["#a3202a","#000000","#f01c1c"]},"legend":null}}}
 ]
},
{
 "width":175,"height":114,
 "resolve":{"scale":{"color":"independent","shape":"independent"},"legend":{"color":"independent","shape":"independent"}},
 "layer":[
  {"data":{"name":"lineC2"},"transform":[{"filter":"false"}],"mark":{"type":"point","filled":true,"opacity":1},
   "encoding":{
    "x":{"field":"week","type":"ordinal","scale":{"type":"point","domain":["10w","11w post","12w","13w","14w","15w","16w"],"padding":0.67},"axis":{"title":null,"labelFontSize":9}},
    "y":{"field":"mean","type":"quantitative","scale":{"domain":[-20,65],"nice":false},"axis":{"title":"Travel distance","values":[-20,0,20,40,60],"labelFontSize":9}},
    "color":{"field":"series","type":"nominal","scale":{"domain":["N171-82Q females","N171-82Q+PBS females","N171-82Q+CDNF females"],"range":["#a3202a","#000000","#f01c1c"]},"legend":{"title":null,"orient":"none","legendX":181,"legendY":4,"labelFontSize":8.8,"rowPadding":4,"symbolSize":30,"labelOffset":11}},
    "shape":{"field":"series","type":"nominal","scale":{"domain":["N171-82Q females","N171-82Q+PBS females","N171-82Q+CDNF females"],"range":["M-2.3,-0.22H2.3V0.22H-2.3ZM0,1.1L-1.05,-0.75L1.05,-0.75Z","M-2.3,-0.22H2.3V0.22H-2.3ZM-1,0A1,1 0 1,1 1,0A1,1 0 1,1 -1,0Z","M-2.3,-0.22H2.3V0.22H-2.3ZM-0.85,-0.85H0.85V0.85H-0.85Z"]},"legend":{"title":null,"orient":"none","legendX":181,"legendY":4,"labelFontSize":8.8,"rowPadding":4,"symbolSize":30,"labelOffset":11}}}},
  {"data":{"name":"lineC2"},"mark":{"type":"point","filled":true,"size":28,"opacity":1},
   "encoding":{
    "x":{"field":"week","type":"ordinal","scale":{"type":"point","domain":["10w","11w post","12w","13w","14w","15w","16w"],"padding":0.67},"axis":{"title":null,"labelFontSize":9}},
    "y":{"field":"mean","type":"quantitative","scale":{"domain":[-20,65],"nice":false},"axis":{"title":"Travel distance","values":[-20,0,20,40,60],"labelFontSize":9}},
    "color":{"field":"series","type":"nominal","scale":{"domain":["N171-82Q females","N171-82Q+PBS females","N171-82Q+CDNF females"],"range":["#a3202a","#000000","#f01c1c"]},"legend":null},
    "shape":{"field":"series","type":"nominal","scale":{"domain":["N171-82Q females","N171-82Q+PBS females","N171-82Q+CDNF females"],"range":["triangle-down","circle","square"]},"legend":null}}},
  {"data":{"values":[{}]},"mark":{"type":"rule","strokeDash":[2,2],"color":"#888","strokeWidth":1.2},
   "encoding":{"y":{"datum":0,"type":"quantitative","scale":{"domain":[-20,65],"nice":false},"axis":{"title":"Travel distance","values":[-20,0,20,40,60],"labelFontSize":9}}}},
  {"data":{"name":"lineC2"},"mark":{"type":"errorbar","ticks":true,"size":6,"thickness":1.3,"opacity":0.6},
   "encoding":{
    "x":{"field":"week","type":"ordinal","scale":{"type":"point","domain":["10w","11w post","12w","13w","14w","15w","16w"],"padding":0.67},"axis":{"title":null,"labelFontSize":9}},
    "y":{"field":"lo","type":"quantitative","scale":{"domain":[-20,65],"nice":false},"axis":{"title":"Travel distance","values":[-20,0,20,40,60],"labelFontSize":9}},
    "y2":{"field":"hi"},
    "color":{"field":"series","type":"nominal","scale":{"domain":["N171-82Q females","N171-82Q+PBS females","N171-82Q+CDNF females"],"range":["#a3202a","#000000","#f01c1c"]},"legend":null}}},
  {"data":{"name":"lineC2"},"mark":{"type":"line","strokeWidth":1.5},
   "encoding":{
    "x":{"field":"week","type":"ordinal","scale":{"type":"point","domain":["10w","11w post","12w","13w","14w","15w","16w"],"padding":0.67},"axis":{"title":null,"labelFontSize":9}},
    "y":{"field":"mean","type":"quantitative","scale":{"domain":[-20,65],"nice":false},"axis":{"title":"Travel distance","values":[-20,0,20,40,60],"labelFontSize":9}},
    "color":{"field":"series","type":"nominal","scale":{"domain":["N171-82Q females","N171-82Q+PBS females","N171-82Q+CDNF females"],"range":["#a3202a","#000000","#f01c1c"]},"legend":null}}},
  {"data":{"values":[{"week":"12w","y":69,"label":"#"},{"week":"12w","y":60,"label":"**"}]},"mark":{"type":"text","fontSize":9},
   "encoding":{
    "x":{"field":"week","type":"ordinal","scale":{"type":"point","domain":["10w","11w post","12w","13w","14w","15w","16w"],"padding":0.67},"axis":{"title":null,"labelFontSize":9}},
    "y":{"field":"y","type":"quantitative","scale":{"domain":[-20,65],"nice":false},"axis":{"title":"Travel distance","values":[-20,0,20,40,60],"labelFontSize":9}},
    "text":{"field":"label"}}}
 ]
}
]}
]
}
